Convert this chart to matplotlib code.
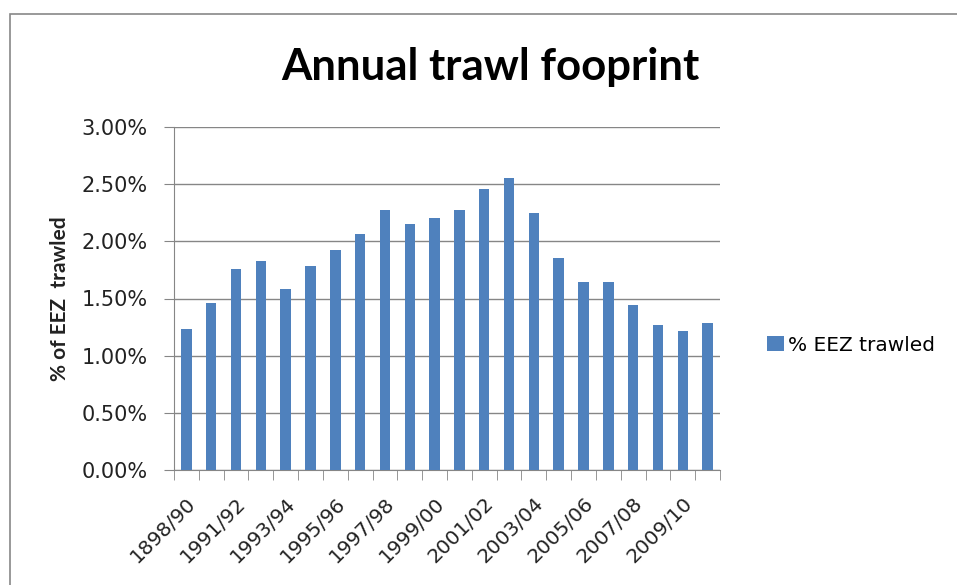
import numpy as np
import matplotlib.pyplot as plt
from matplotlib.patches import Rectangle
from matplotlib.ticker import FuncFormatter
from matplotlib.transforms import ScaledTranslation

# seasons (first label carries the typo from the original chart)
seasons = ['1898/90', '1990/91', '1991/92', '1992/93', '1993/94', '1994/95',
           '1995/96', '1996/97', '1997/98', '1998/99', '1999/00', '2000/01',
           '2001/02', '2002/03', '2003/04', '2004/05', '2005/06', '2006/07',
           '2007/08', '2008/09', '2009/10', '2010/11']
pct_trawled = [1.23, 1.46, 1.76, 1.83, 1.585, 1.78, 1.92, 2.06, 2.27, 2.15, 2.20,
               2.27, 2.46, 2.55, 2.25, 1.85, 1.64, 1.64, 1.445, 1.27, 1.215, 1.29]
yticks = [0, 0.5, 1.0, 1.5, 2.0, 2.5, 3.0]

fig = plt.figure(figsize=(9.57, 5.85), dpi=100)
ax = fig.add_axes([174/957, 1-470/585, 546/957, 343/585])

x = np.arange(len(seasons))
bars = ax.bar(x, pct_trawled, width=0.42, color='#4F81BD', zorder=3,
              label='% EEZ trawled')

ax.set_xlim(-0.5, len(seasons)-0.5)
ax.set_ylim(0, 3.0)
ax.set_yticks(yticks)
ax.yaxis.set_major_formatter(FuncFormatter(lambda v, p: '%.2f%%' % v))
ax.grid(axis='y', color='#868686', lw=1.0, zorder=0)

# label every other season, ticks sit between the bars
ax.set_xticks(x[::2])
ax.set_xticklabels(seasons[::2], rotation=45, ha='right', va='top',
                   rotation_mode='anchor', fontsize=14.5, color='#222222')
shift = ScaledTranslation(5/100, 0, fig.dpi_scale_trans)
for lab in ax.get_xticklabels():
    lab.set_transform(lab.get_transform() + shift)
ax.set_xticks(np.arange(-0.5, len(seasons)), minor=True)
ax.tick_params(axis='x', which='major', length=0, pad=17)
ax.tick_params(axis='x', which='minor', length=7, color='#868686')
ax.tick_params(axis='y', length=7, color='#868686', labelsize=15,
               labelcolor='#222222', pad=12)

for s in ['top', 'right']:
    ax.spines[s].set_visible(False)
for s in ['left', 'bottom']:
    ax.spines[s].set_color('#868686')

ax.set_ylabel('% of EEZ  trawled', fontsize=15, fontweight='bold',
              family='Lato', color='#222222', labelpad=8)

fig.text(0.512, 0.886, 'Annual trawl fooprint', ha='center', va='center',
         fontsize=31.5, fontweight='bold', family='Lato')

fig.legend(handles=[bars], loc='center left', bbox_to_anchor=(0.793, 0.41),
           frameon=False, fontsize=14.5, handlelength=0.85, handleheight=0.8,
           handletextpad=0.2, borderaxespad=0)

# outer chart border (runs off the right and bottom edges)
fig.patches.append(Rectangle((10/957, -0.1), 1.2, 1.1-14/585,
                             transform=fig.transFigure,
                             fill=False, edgecolor='#888888', lw=1.2))

fig.savefig('out.png', dpi=100)
